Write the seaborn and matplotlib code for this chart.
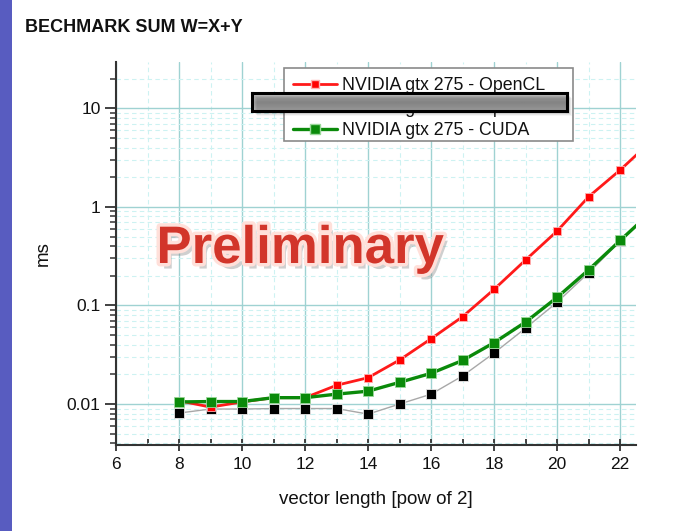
import numpy as np
import pandas as pd
import matplotlib
matplotlib.use("Agg")
import matplotlib.pyplot as plt
import matplotlib.patheffects as pe
from matplotlib.lines import Line2D
from matplotlib.patches import Rectangle
from matplotlib.ticker import LogLocator, FixedLocator, NullFormatter, FuncFormatter
import seaborn as sns

# ---- data ----
vec_pow = [8, 9, 10, 11, 12, 13, 14, 15, 16, 17, 18, 19, 20, 21, 22, 23]
opencl_ms = [0.0108, 0.0093, 0.0105, 0.0116, 0.0116, 0.0155, 0.0185, 0.028, 0.046,
             0.077, 0.146, 0.29, 0.57, 1.27, 2.37, 4.7]
cuda_ms = [0.0105, 0.0106, 0.0106, 0.0116, 0.0116, 0.0126, 0.0135, 0.0166, 0.0205,
           0.0277, 0.042, 0.068, 0.121, 0.23, 0.457, 0.9]
hidden_ms = [0.0081, 0.0089, 0.0089, 0.0090, 0.0090, 0.0090, 0.0079, 0.0100, 0.0126,
             0.0193, 0.033, 0.059, 0.108, 0.215, 0.45, 0.9]
series_labels = ["NVIDIA gtx 275 - OpenCL", "NVIDIA gtx 275 - OpenCL 2", "NVIDIA gtx 275 - CUDA"]
x_ticks = [6, 8, 10, 12, 14, 16, 18, 20, 22]
y_ticks = [0.01, 0.1, 1, 10]
y_tick_labels = ["0.01", "0.1", "1", "10"]

sns.set_theme(style="white")
plt.rcParams["font.family"] = ["Liberation Sans", "DejaVu Sans"]

W, H = 690, 531
fig = plt.figure(figsize=(W / 100, H / 100), dpi=100)
fig.patch.set_facecolor("white")

# purple bar on the left edge
fig.patches.append(Rectangle((0, 0), 11.5 / W, 1, transform=fig.transFigure,
                             facecolor="#585cc0", edgecolor="none", zorder=0))

ax = fig.add_axes([116 / W, 1 - 445 / H, (636 - 116) / W, (445 - 62) / H])
ax.set_facecolor("white")

df = pd.DataFrame({"x": vec_pow, "opencl": opencl_ms, "cuda": cuda_ms, "hidden": hidden_ms})

sns.lineplot(data=df, x="x", y="hidden", ax=ax, color="#a8a8a8", lw=1.0,
             marker="s", markersize=7, markerfacecolor="black",
             markeredgecolor="#e8e8e8", markeredgewidth=0.6, zorder=3)
sns.lineplot(data=df, x="x", y="opencl", ax=ax, color="#ff1a1a", lw=2.0,
             marker="s", markersize=6, markerfacecolor="#ff0000",
             markeredgecolor="#ffb0b0", markeredgewidth=0.6, zorder=4)
sns.lineplot(data=df, x="x", y="cuda", ax=ax, color="#0a8a0a", lw=2.4,
             marker="s", markersize=7, markerfacecolor="#0a8a0a",
             markeredgecolor="#9ad89a", markeredgewidth=0.6, zorder=5)

ax.set_yscale("log")
ax.set_xlim(6, 22.5)
ax.set_ylim(0.00384, 29.5)

ax.xaxis.set_major_locator(FixedLocator(x_ticks))
ax.xaxis.set_minor_locator(FixedLocator([7, 9, 11, 13, 15, 17, 19, 21]))
ax.yaxis.set_major_locator(FixedLocator(y_ticks))
ax.yaxis.set_minor_locator(LogLocator(base=10, subs=np.arange(2, 10), numticks=20))
ax.yaxis.set_major_formatter(FuncFormatter(lambda v, p: dict(zip(y_ticks, y_tick_labels)).get(v, "")))
ax.yaxis.set_minor_formatter(NullFormatter())

ax.grid(which="major", color="#9fd2d2", lw=1.0, ls="-", zorder=0)
ax.grid(which="minor", color="#cdf2f2", lw=0.8, ls=(0, (4, 3)), zorder=0)
ax.set_axisbelow(True)

for s in ["top", "right"]:
    ax.spines[s].set_visible(False)
for s in ["left", "bottom"]:
    ax.spines[s].set_color("#333333")
    ax.spines[s].set_linewidth(1.5)

ax.tick_params(axis="x", which="major", direction="inout", length=9, width=1.3,
               colors="#333333", labelsize=12.5, labelcolor="#111111", pad=4, bottom=True)
ax.tick_params(axis="x", which="minor", direction="in", length=4, width=1.3,
               colors="#333333", bottom=True)
ax.tick_params(axis="y", which="major", direction="out", length=8, width=1.3,
               colors="#333333", labelsize=12.5, labelcolor="#111111", pad=3, left=True)
ax.tick_params(axis="y", which="minor", direction="out", length=4, width=1.1,
               colors="#333333", left=True)

ax.set_xlabel("vector length [pow of 2]", fontsize=13.5, color="#111111", labelpad=14)
ax.set_ylabel("ms", fontsize=13.5, color="#111111", labelpad=11)

# legend frame (drawn separately for the asymmetric padding)
frame = Rectangle((284 / W, 1 - 141 / H), (573 - 284) / W, (141 - 68) / H,
                  transform=fig.transFigure, facecolor="white", edgecolor="#8a8a8a",
                  lw=1.2, zorder=10, clip_on=False)
ax.add_patch(frame)

handles = [
    Line2D([], [], color="#ff1a1a", lw=2.0, marker="s", markersize=6,
           markerfacecolor="#ff0000", markeredgecolor="#ffb0b0"),
    Line2D([], [], color="#a8a8a8", lw=1.0, marker="s", markersize=7,
           markerfacecolor="black", markeredgecolor="#e8e8e8"),
    Line2D([], [], color="#0a8a0a", lw=2.4, marker="s", markersize=7,
           markerfacecolor="#0a8a0a", markeredgecolor="#9ad89a"),
]
leg = ax.legend(handles, series_labels, loc="upper left",
                bbox_to_anchor=(293 / W, 1 - 77 / H),
                bbox_transform=fig.transFigure, borderaxespad=0, borderpad=0,
                fontsize=12.8, frameon=False, handlelength=2.5,
                handletextpad=0.25, labelspacing=0.32)
leg.set_zorder(20)
for t in leg.get_texts():
    t.set_color("#111111")

# gray redaction bar with shadow over the middle legend entry
bx0, by0, bw, bh = 252 / W, 1 - 111 / H, (567 - 252) / W, 18 / H
for i, a in enumerate([0.10, 0.08, 0.06, 0.04]):
    off = (i + 2) / W
    fig.patches.append(Rectangle((bx0 + off, by0 - (i + 2) / H), bw, bh,
                                 transform=fig.transFigure, facecolor="black",
                                 edgecolor="none", alpha=a, zorder=9))
bar_ax = fig.add_axes([bx0, by0, bw, bh])
grad = np.concatenate([np.linspace(0.84, 0.70, 10), np.linspace(0.70, 0.80, 8)])[:, None]
bar_ax.imshow(np.repeat(grad, 10, axis=1), cmap="gray", vmin=0, vmax=1,
              aspect="auto", extent=(0, 1, 0, 1))
bar_ax.set_xticks([])
bar_ax.set_yticks([])
for s in bar_ax.spines.values():
    s.set_color("black")
    s.set_linewidth(2.2)

# watermark
fig.text(300 / W, 1 - 263 / H, "Preliminary", fontsize=38, fontweight="bold",
         color="#d2352a", ha="center", va="baseline",
         path_effects=[pe.withSimplePatchShadow(offset=(3, -4), shadow_rgbFace="#777777", alpha=0.35),
                       pe.Stroke(linewidth=5, foreground="#ffe0da"),
                       pe.Normal()])

# title
fig.text(25 / W, 1 - 28 / H, "BECHMARK SUM W=X+Y", fontsize=13, fontweight="bold",
         color="#111111", ha="left", va="center")

fig.savefig("out.png", dpi=100, facecolor="white")
